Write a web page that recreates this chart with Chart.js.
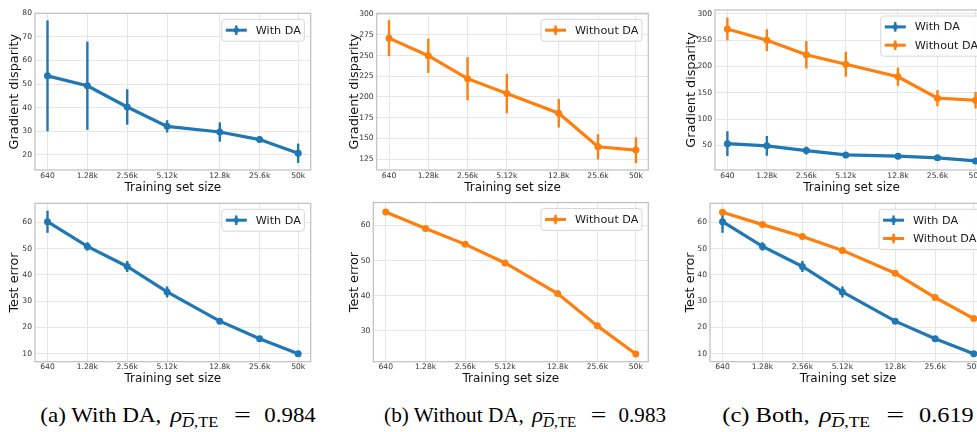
<!DOCTYPE html>
<html>
<head>
<meta charset="utf-8">
<script src="https://cdn.jsdelivr.net/npm/chart.js@4/dist/chart.umd.min.js"></script>
<style>
  html, body { margin:0; padding:0; background:#fff; width:977px; height:432px; overflow:hidden; }
  .panel { position:absolute; }
  .cap { position:absolute; top:401px; font-family:"Liberation Serif", serif; font-size:21px; color:#000; white-space:nowrap; line-height:28px; }
  .cap sub { font-size:15px; vertical-align:-5px; }
  .cap .rho { font-style:italic; font-size:22px; margin-left:3px; }
  .cap .eq { display:inline-block; transform:scaleX(1.3); margin:0 14px 0 16px; }
  .cap .num { font-size:20.8px; }
  .ol { text-decoration: overline; }
</style>
</head>
<body>
<div class="panel" style="left:0;top:0"><canvas id="aTop" width="330" height="195"></canvas></div>
<div class="panel" style="left:330px;top:0"><canvas id="bTop" width="330" height="195"></canvas></div>
<div class="panel" style="left:660px;top:0"><canvas id="cTop" width="340" height="195"></canvas></div>
<div class="panel" style="left:0;top:195px"><canvas id="aBot" width="330" height="195"></canvas></div>
<div class="panel" style="left:330px;top:195px"><canvas id="bBot" width="330" height="195"></canvas></div>
<div class="panel" style="left:660px;top:195px"><canvas id="cBot" width="340" height="195"></canvas></div>

<div class="cap" style="left:177.5px;transform:translateX(-50%) scaleX(1.1)">(a) With DA, <span class="rho">ρ</span><sub><span class="ol"><i>D</i></span>,TE</sub><span class="eq">=</span><span class="num">0.984</span></div>
<div class="cap" style="left:525px;transform:translateX(-50%) scaleX(1.012)">(b) Without DA, <span class="rho">ρ</span><sub><span class="ol"><i>D</i></span>,TE</sub><span class="eq">=</span><span class="num">0.983</span></div>
<div class="cap" style="left:847.5px;transform:translateX(-50%) scaleX(1.17)">(c) Both, <span class="rho">ρ</span><sub><span class="ol"><i>D</i></span>,TE</sub><span class="eq">=</span><span class="num">0.619</span></div>

<script>
// ---------- data ----------
const trainSizes = [640, 1280, 2560, 5120, 12800, 25600, 50000];
const xTickLabels = ['640', '1.28k', '2.56k', '5.12k', '12.8k', '25.6k', '50k'];

const gdWithDA      = [53.5, 49.3, 40.3, 32.1, 29.7, 26.5, 20.7];
const gdWithDAErr   = [23.5, 18.7, 7.5, 2.6, 4.1, 1.4, 4.1];
const gdWithoutDA    = [271.0, 249.8, 222.1, 204.1, 180.4, 139.8, 135.8];
const gdWithoutDAErr = [21.7, 20.7, 26.0, 23.7, 17.3, 15.2, 15.6];

const teWithDA      = [60.2, 50.8, 43.2, 33.5, 22.4, 15.7, 10.0];
const teWithDAErr   = [4.2, 1.6, 2.1, 2.1, 0.9, 0.6, 0.4];
const teWithoutDA    = [63.8, 59.1, 54.6, 49.3, 40.6, 31.4, 23.4];
const teWithoutDAErr = [0.3, 0.3, 0.3, 0.3, 0.3, 0.3, 0.3];

const yTicksGdA = [20, 30, 40, 50, 60, 70, 80];
const yTicksGdB = [125, 150, 175, 200, 225, 250, 275, 300];
const yTicksGdC = [50, 100, 150, 200, 250, 300];
const yTicksTeA = [10, 20, 30, 40, 50, 60];
const yTicksTeB = [30, 40, 50, 60];
const yTicksTeC = [10, 20, 30, 40, 50, 60];

const labelWith = 'With DA';
const labelWithout = 'Without DA';
const blue = '#1f77b4';
const orange = '#ff7f0e';

// ---------- plugins ----------
const errorBarPlugin = {
  id: 'errbars',
  beforeDatasetsDraw(chart) {
    const ctx = chart.ctx;
    const xs = chart.scales.x, ys = chart.scales.y;
    chart.data.datasets.forEach(ds => {
      if (!ds.errors) return;
      ctx.save();
      ctx.strokeStyle = ds.borderColor;
      ctx.lineWidth = 2.4;
      ds.data.forEach((p, i) => {
        const e = ds.errors[i];
        const px = xs.getPixelForValue(p.x);
        ctx.beginPath();
        ctx.moveTo(px, ys.getPixelForValue(p.y - e));
        ctx.lineTo(px, ys.getPixelForValue(p.y + e));
        ctx.stroke();
      });
      ctx.restore();
    });
  }
};

const framePlugin = {
  id: 'frame',
  afterDatasetsDraw(chart) {
    const a = chart.chartArea, ctx = chart.ctx;
    ctx.save();
    ctx.strokeStyle = '#bfbfbf';
    ctx.lineWidth = 1.2;
    ctx.strokeRect(a.left, a.top, a.right - a.left, a.bottom - a.top);
    ctx.restore();
  }
};

const mplLegendPlugin = {
  id: 'mplLegend',
  afterDraw(chart) {
    const a = chart.chartArea, ctx = chart.ctx;
    const items = chart.data.datasets;
    ctx.save();
    ctx.font = '11.2px "DejaVu Sans"';
    let tw = 0;
    items.forEach(d => tw = Math.max(tw, ctx.measureText(d.label).width));
    const handleLen = 21, gap = 9, padL = 4, padR = 3.5, rowH = 18.3;
    const w = padL + handleLen + gap + tw + padR;
    const h = items.length * rowH + 3.6;
    const x0 = a.right - 6.4 - w;
    const y0 = a.top + 6;
    ctx.fillStyle = 'rgba(255,255,255,0.85)';
    ctx.strokeStyle = '#d6d6d6';
    ctx.lineWidth = 1;
    ctx.beginPath();
    ctx.roundRect(x0, y0, w, h, 3);
    ctx.fill();
    ctx.stroke();
    items.forEach((d, i) => {
      const cy = y0 + 10.9 + i * rowH;
      const hx = x0 + padL;
      ctx.strokeStyle = d.borderColor;
      ctx.lineWidth = 3;
      ctx.beginPath(); ctx.moveTo(hx, cy); ctx.lineTo(hx + handleLen, cy); ctx.stroke();
      ctx.lineWidth = 2.4;
      ctx.beginPath(); ctx.moveTo(hx + handleLen / 2, cy - 4.8); ctx.lineTo(hx + handleLen / 2, cy + 4.8); ctx.stroke();
      ctx.fillStyle = d.borderColor;
      ctx.beginPath(); ctx.arc(hx + handleLen / 2, cy, 2.6, 0, Math.PI * 2); ctx.fill();
      ctx.fillStyle = '#1a1a1a';
      ctx.textBaseline = 'middle';
      ctx.textAlign = 'left';
      ctx.fillText(d.label, hx + handleLen + gap, cy + 0.5);
    });
    ctx.restore();
  }
};

// ---------- chart builder ----------
function series(label, color, vals, errs) {
  return {
    label: label,
    data: trainSizes.map((x, i) => ({ x: x, y: vals[i] })),
    errors: errs,
    borderColor: color,
    backgroundColor: color,
    borderWidth: 3.2,
    pointRadius: 3.5,
    pointHoverRadius: 3.5,
    pointBorderWidth: 0,
    pointBackgroundColor: color,
    tension: 0,
    fill: false
  };
}

function makeChart(id, datasets, yTitle, yTicks, yMin, yMax, L) {
  const yHalf = 12.8 * 1.2 / 2, xHalf = 12 * 1.2 / 2;
  const cv = document.getElementById(id);
  const W = cv.width, H = cv.height;
  const padLeft = L.yTitleX - yHalf;
  const yW = L.l - padLeft;
  const xH = L.xTitleY - L.b + xHalf;
  const padBottom = H - L.b - xH;
  new Chart(cv, {
    type: 'line',
    data: { datasets: datasets },
    options: {
      responsive: false,
      devicePixelRatio: 1,
      animation: false,
      events: [],
      layout: { padding: { left: padLeft, right: W - L.r, top: L.t, bottom: padBottom } },
      plugins: { legend: { display: false }, tooltip: { enabled: false } },
      scales: {
        x: {
          type: 'logarithmic',
          min: 515, max: 62180,
          afterBuildTicks: s => { s.ticks = trainSizes.map(v => ({ value: v })); },
          afterFit: s => { s.height = xH; },
          ticks: {
            autoSkip: false, maxRotation: 0, padding: 1,
            color: '#333', font: { family: 'DejaVu Sans', size: 7.6 },
            callback: (v, i) => xTickLabels[i]
          },
          grid: { color: '#e6e6e6', lineWidth: 1, drawTicks: false },
          border: { display: false },
          title: { display: true, text: 'Training set size', color: '#111',
                   font: { family: 'DejaVu Sans', size: 12 }, padding: 0 }
        },
        y: {
          type: 'linear',
          min: yMin, max: yMax,
          afterBuildTicks: s => { s.ticks = yTicks.map(v => ({ value: v })); },
          afterFit: s => { s.width = yW; },
          ticks: {
            autoSkip: false, padding: 3,
            color: '#333', font: { family: 'DejaVu Sans', size: 7.6 },
            callback: v => String(v)
          },
          grid: { color: '#e6e6e6', lineWidth: 1, drawTicks: false },
          border: { display: false },
          title: { display: true, text: yTitle, color: '#111',
                   font: { family: 'DejaVu Sans', size: 12.8 }, padding: 0 }
        }
      }
    },
    plugins: [errorBarPlugin, framePlugin, mplLegendPlugin]
  });
}

makeChart('aTop', [series(labelWith, blue, gdWithDA, gdWithDAErr)],
  'Gradient disparity', yTicksGdA, 13.6, 80,
  { l: 35, r: 310.7, t: 13.3, b: 170, yTitleX: 15, xTitleY: 187.7 });
makeChart('bTop', [series(labelWithout, orange, gdWithoutDA, gdWithoutDAErr)],
  'Gradient disparity', yTicksGdB, 111.8, 301,
  { l: 46.7, r: 318.3, t: 13.3, b: 170, yTitleX: 25, xTitleY: 187.7 });
makeChart('cTop', [series(labelWith, blue, gdWithDA, gdWithDAErr), series(labelWithout, orange, gdWithoutDA, gdWithoutDAErr)],
  'Gradient disparity', yTicksGdC, 3.5, 307,
  { l: 55, r: 328, t: 10, b: 170, yTitleX: 31.7, xTitleY: 187.7 });
makeChart('aBot', [series(labelWith, blue, teWithDA, teWithDAErr)],
  'Test error', yTicksTeA, 7.0, 67.2,
  { l: 35, r: 310.7, t: 8.3, b: 166.7, yTitleX: 15, xTitleY: 184.3 });
makeChart('bBot', [series(labelWithout, orange, teWithoutDA, teWithoutDAErr)],
  'Test error', yTicksTeB, 21.2, 66.5,
  { l: 43.3, r: 318.3, t: 7.3, b: 166.7, yTitleX: 25, xTitleY: 184.3 });
makeChart('cBot', [series(labelWith, blue, teWithDA, teWithDAErr), series(labelWithout, orange, teWithoutDA, teWithoutDAErr)],
  'Test error', yTicksTeC, 7.0, 67.2,
  { l: 50, r: 326.3, t: 8.3, b: 166.7, yTitleX: 31, xTitleY: 184.3 });
</script>
</body>
</html>
